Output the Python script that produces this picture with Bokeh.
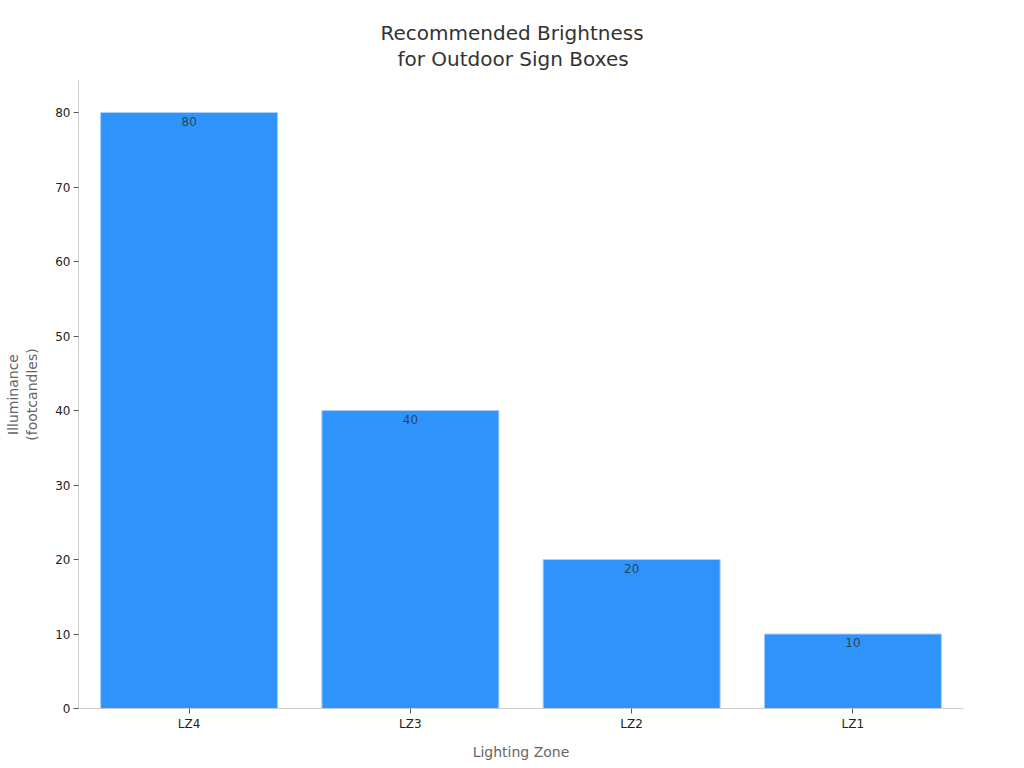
from bokeh.plotting import figure
from bokeh.models import ColumnDataSource, Range1d, FactorRange, Title
from bokeh.core.properties import value
from bokeh.embed import file_html
from bokeh.resources import INLINE

zones = ["LZ4", "LZ3", "LZ2", "LZ1"]
illuminance = [80, 40, 20, 10]
bar_labels = [str(v) for v in illuminance]
title_lines = ["Recommended Brightness", "for Outdoor Sign Boxes"]

FONT = "DejaVu Sans"

source = ColumnDataSource(data=dict(zones=zones, values=illuminance, labels=bar_labels))

p = figure(
    x_range=FactorRange(*zones, range_padding=0),
    y_range=Range1d(0, 84.3),
    frame_width=885, frame_height=628,
    min_border_left=78, min_border_right=45,
    min_border_top=80, min_border_bottom=40,
    output_backend="svg", toolbar_location=None,
)

p.vbar(x="zones", top="values", width=0.8, source=source,
       fill_color="#2E93FA", line_color="#a9d0fa", line_width=1)

p.text(x="zones", y="values", text="labels", source=source,
       text_align="center", text_baseline="top", y_offset=4,
       text_font=value(FONT), text_font_size="12px",
       text_color="#333333", text_alpha=0.85)

p.title.text = title_lines[0]
p.title.align = "left"
p.title.offset = 302
p.title.text_font = FONT
p.title.text_font_size = "20px"
p.title.text_font_style = "normal"
p.title.text_color = "#333333"
p.title.standoff = -20
t2 = Title(text=title_lines[1], align="left", offset=319, text_font=FONT,
           text_font_size="20px", text_font_style="normal", text_color="#333333",
           standoff=20)
p.add_layout(t2, "above")

p.xgrid.visible = False
p.ygrid.visible = False
p.outline_line_color = None
p.background_fill_color = "white"

for ax in (p.xaxis, p.yaxis):
    ax.axis_line_color = "#cccccc"
    ax.major_tick_line_color = "#555555"
    ax.minor_tick_line_color = None
    ax.major_tick_in = 0
    ax.major_tick_out = 5
    ax.major_label_text_font = FONT
    ax.major_label_text_font_size = "12px"
    ax.major_label_text_color = "#222222"
    ax.axis_label_text_font = FONT
    ax.axis_label_text_font_size = "14px"
    ax.axis_label_text_font_style = "normal"
    ax.axis_label_text_color = "#666666"

p.xaxis.axis_label = "Lighting Zone"
p.xaxis.major_label_standoff = 3
p.xaxis.axis_label_standoff = 10
p.yaxis.axis_label = "Illuminance\n(footcandles)"
p.yaxis.axis_label_standoff = 12
p.yaxis.major_label_standoff = 3
p.yaxis.ticker = [0, 10, 20, 30, 40, 50, 60, 70, 80]

open("out.html", "w").write(file_html(p, INLINE))
